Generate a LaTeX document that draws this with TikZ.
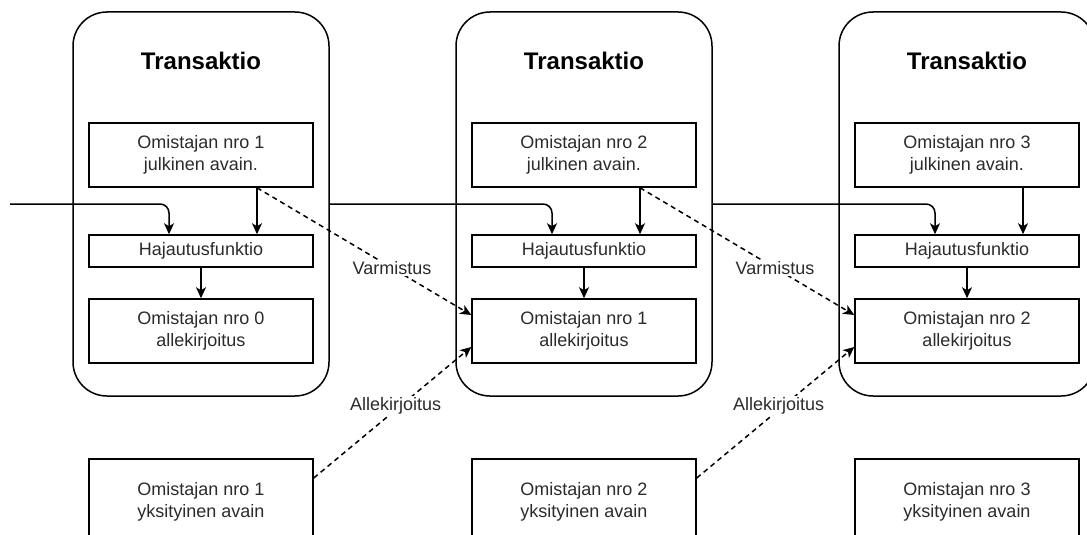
\documentclass[tikz,border=0pt]{standalone}
\usepackage{fontspec}
\setmainfont{Liberation Sans}
\usepackage{xcolor}
\usepackage{tikz}
\usetikzlibrary{arrows.meta}
\definecolor{chainline}{HTML}{000000}
\definecolor{chaintext}{HTML}{2B2B2B}
\tikzset{
  container/.style={draw=chainline,line width=1.5pt,rounded corners=34pt,
    minimum width=256pt,minimum height=384pt,inner sep=0pt},
  title/.style={font=\fontsize{24}{28}\selectfont\bfseries,text=chainline},
  keybox/.style={draw=chainline,line width=1.5pt,fill=white,minimum width=224pt,
    minimum height=64pt,inner sep=0pt,align=center,text=chaintext,
    font=\fontsize{18}{22}\selectfont},
  hashbox/.style={keybox,minimum height=32pt},
  privbox/.style={keybox,minimum height=86pt},
  link/.style={draw=chainline,line width=1.5pt,
    -{Stealth[length=11pt,width=10pt,inset=3pt]}},
  proof link/.style={link,dash pattern=on 5pt off 4pt},
  tag/.style={fill=white,inner sep=1pt,text=chaintext,
    font=\fontsize{18}{22}\selectfont}
}

\begin{document}
\begin{tikzpicture}[x=1pt,y=-1pt]
  \useasboundingbox (0,0) rectangle (1087,535);
  \node[container] (tx1) at (201,204) {};
  \node[container] (tx2) at (584,204) {};
  \node[container] (tx3) at (967,204) {};
  \node[title] (title1) at (201,61) {Transaktio};
  \node[title] (title2) at (584,61) {Transaktio};
  \node[title] (title3) at (967,61) {Transaktio};
  \node[keybox] (pub1) at (201,155) {Omistajan nro 1\\julkinen avain.};
  \node[keybox] (pub2) at (584,155) {Omistajan nro 2\\julkinen avain.};
  \node[keybox] (pub3) at (967,155) {Omistajan nro 3\\julkinen avain.};
  \node[hashbox] (hash1) at (201,251) {Hajautusfunktio};
  \node[hashbox] (hash2) at (584,251) {Hajautusfunktio};
  \node[hashbox] (hash3) at (967,251) {Hajautusfunktio};
  \node[keybox] (sig1) at (201,331) {Omistajan nro 0\\allekirjoitus};
  \node[keybox] (sig2) at (584,331) {Omistajan nro 1\\allekirjoitus};
  \node[keybox] (sig3) at (967,331) {Omistajan nro 2\\allekirjoitus};
  \node[privbox] (priv1) at (201,502) {Omistajan nro 1\\yksityinen avain};
  \node[privbox] (priv2) at (584,502) {Omistajan nro 2\\yksityinen avain};
  \node[privbox] (priv3) at (967,502) {Omistajan nro 3\\yksityinen avain};
  \coordinate (in) at (10,204);
  % chain of hashes
  \draw[link,rounded corners=9pt] (in) -- ([xshift=-32pt]hash1.north |- in)
    -- ([xshift=-32pt]hash1.north);
  \draw[link,rounded corners=9pt] (tx1.east) -- ([xshift=-32pt]hash2.north |- tx1.east)
    -- ([xshift=-32pt]hash2.north);
  \draw[link,rounded corners=9pt] (tx2.east) -- ([xshift=-32pt]hash3.north |- tx2.east)
    -- ([xshift=-32pt]hash3.north);
  \draw[link] ([xshift=56pt]pub1.south) -- ([xshift=56pt]hash1.north);
  \draw[link] ([xshift=56pt]pub2.south) -- ([xshift=56pt]hash2.north);
  \draw[link] ([xshift=56pt]pub3.south) -- ([xshift=56pt]hash3.north);
  \draw[link] (hash1) -- (sig1);
  \draw[link] (hash2) -- (sig2);
  \draw[link] (hash3) -- (sig3);
  % signing and verifying
  \draw[proof link] ([xshift=56pt]pub1.south) -- ([yshift=16pt]sig2.west)
    node[tag,pos=0.63] {Varmistus};
  \draw[proof link] ([xshift=56pt]pub2.south) -- ([yshift=16pt]sig3.west)
    node[tag,pos=0.63] {Varmistus};
  \draw[proof link] ([yshift=24pt]priv1.east) -- ([yshift=-16pt]sig2.west)
    node[tag,pos=0.52,yshift=4pt] {Allekirjoitus};
  \draw[proof link] ([yshift=24pt]priv2.east) -- ([yshift=-16pt]sig3.west)
    node[tag,pos=0.52,yshift=4pt] {Allekirjoitus};
\end{tikzpicture}
\end{document}
